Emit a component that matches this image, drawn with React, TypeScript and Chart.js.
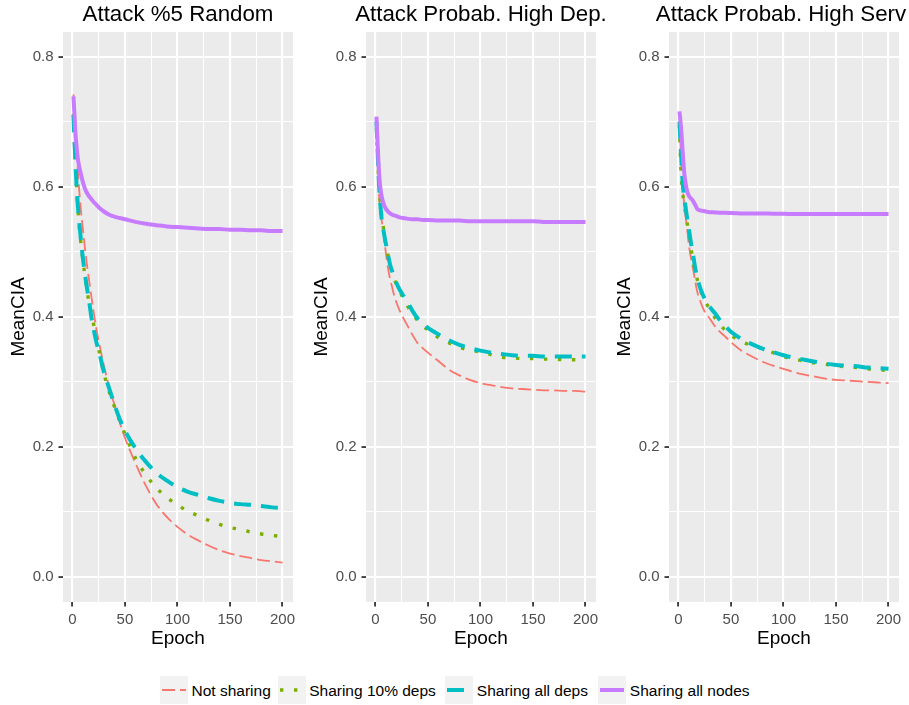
import React, { useEffect, useRef } from 'react';
import { Chart, registerables } from 'chart.js';

Chart.register(...registerables);

// ---------------- data ----------------
const EPOCHS = [1, 2, 3, 4, 5, 6, 8, 10, 12, 14, 16, 18, 20, 23, 26, 30, 35, 40, 45, 50, 60, 70, 80, 90, 100, 110, 120, 130, 140, 150, 160, 170, 180, 190, 200];

const SERIES_NAMES = ['Not sharing', 'Sharing 10% deps', 'Sharing all deps', 'Sharing all nodes'];
const PANEL_TITLES = ['Attack %5 Random', 'Attack Probab. High Dep.', 'Attack Probab. High Serv'];

const X_TICKS = [0, 50, 100, 150, 200];
const Y_TICKS = [0.0, 0.2, 0.4, 0.6, 0.8];

// Panel 1: Attack %5 Random
const RANDOM_NOT_SHARING = [0.742, 0.72, 0.69, 0.66, 0.63, 0.605, 0.565, 0.535, 0.505, 0.478, 0.455, 0.432, 0.41, 0.38, 0.355, 0.325, 0.292, 0.265, 0.238, 0.214, 0.175, 0.14, 0.112, 0.092, 0.077, 0.065, 0.056, 0.048, 0.041, 0.036, 0.032, 0.029, 0.026, 0.024, 0.022];
const RANDOM_SHARE_10 = [0.712, 0.668, 0.632, 0.6, 0.575, 0.55, 0.515, 0.487, 0.463, 0.44, 0.42, 0.405, 0.39, 0.365, 0.343, 0.313, 0.285, 0.262, 0.24, 0.22, 0.183, 0.157, 0.137, 0.122, 0.111, 0.101, 0.094, 0.087, 0.081, 0.076, 0.073, 0.069, 0.066, 0.064, 0.062];
const RANDOM_SHARE_DEPS = [0.71, 0.67, 0.635, 0.6, 0.575, 0.555, 0.52, 0.49, 0.465, 0.443, 0.423, 0.4, 0.383, 0.36, 0.342, 0.315, 0.29, 0.265, 0.243, 0.225, 0.198, 0.177, 0.16, 0.148, 0.138, 0.131, 0.126, 0.121, 0.117, 0.114, 0.112, 0.111, 0.109, 0.107, 0.106];
const RANDOM_SHARE_NODES = [0.739, 0.71, 0.68, 0.662, 0.645, 0.635, 0.62, 0.607, 0.597, 0.59, 0.585, 0.581, 0.577, 0.572, 0.567, 0.562, 0.557, 0.554, 0.552, 0.55, 0.546, 0.543, 0.541, 0.539, 0.538, 0.537, 0.536, 0.535, 0.535, 0.534, 0.534, 0.533, 0.533, 0.532, 0.532];

// Panel 2: Attack Probab. High Dep.
const DEP_NOT_SHARING = [0.7, 0.64, 0.6, 0.575, 0.56, 0.548, 0.525, 0.498, 0.475, 0.458, 0.445, 0.432, 0.422, 0.41, 0.4, 0.388, 0.373, 0.36, 0.352, 0.345, 0.332, 0.319, 0.31, 0.303, 0.298, 0.295, 0.292, 0.29, 0.289, 0.288, 0.287, 0.287, 0.286, 0.286, 0.285];
const DEP_SHARE_10 = [0.69, 0.65, 0.615, 0.59, 0.57, 0.555, 0.533, 0.51, 0.495, 0.48, 0.468, 0.458, 0.45, 0.44, 0.43, 0.418, 0.405, 0.395, 0.386, 0.38, 0.368, 0.36, 0.353, 0.349, 0.346, 0.342, 0.338, 0.337, 0.336, 0.336, 0.335, 0.335, 0.334, 0.334, 0.334];
const DEP_SHARE_DEPS = [0.7, 0.66, 0.62, 0.59, 0.567, 0.55, 0.53, 0.512, 0.495, 0.48, 0.47, 0.46, 0.452, 0.442, 0.434, 0.424, 0.41, 0.398, 0.39, 0.383, 0.373, 0.364, 0.357, 0.352, 0.348, 0.345, 0.343, 0.341, 0.34, 0.34, 0.339, 0.339, 0.339, 0.339, 0.339];
const DEP_SHARE_NODES = [0.708, 0.67, 0.635, 0.61, 0.595, 0.585, 0.573, 0.566, 0.562, 0.559, 0.557, 0.556, 0.555, 0.553, 0.552, 0.551, 0.55, 0.55, 0.549, 0.549, 0.548, 0.548, 0.548, 0.547, 0.547, 0.547, 0.547, 0.547, 0.547, 0.547, 0.546, 0.546, 0.546, 0.546, 0.546];

// Panel 3: Attack Probab. High Serv
const SERV_NOT_SHARING = [0.7, 0.665, 0.625, 0.598, 0.582, 0.565, 0.54, 0.51, 0.49, 0.473, 0.455, 0.438, 0.428, 0.415, 0.405, 0.397, 0.385, 0.376, 0.369, 0.361, 0.348, 0.339, 0.331, 0.325, 0.32, 0.315, 0.311, 0.308, 0.305, 0.303, 0.302, 0.301, 0.3, 0.299, 0.298];
const SERV_SHARE_10 = [0.695, 0.64, 0.61, 0.59, 0.58, 0.568, 0.548, 0.527, 0.505, 0.487, 0.47, 0.457, 0.445, 0.432, 0.422, 0.412, 0.398, 0.387, 0.379, 0.372, 0.362, 0.356, 0.351, 0.345, 0.339, 0.335, 0.332, 0.329, 0.327, 0.325, 0.323, 0.322, 0.32, 0.319, 0.317];
const SERV_SHARE_DEPS = [0.7, 0.665, 0.635, 0.608, 0.59, 0.578, 0.555, 0.535, 0.513, 0.495, 0.475, 0.46, 0.448, 0.435, 0.425, 0.415, 0.405, 0.394, 0.385, 0.377, 0.366, 0.358, 0.351, 0.346, 0.341, 0.337, 0.334, 0.331, 0.328, 0.326, 0.325, 0.324, 0.322, 0.321, 0.32];
const SERV_SHARE_NODES = [0.716, 0.7, 0.68, 0.655, 0.632, 0.615, 0.595, 0.586, 0.582, 0.578, 0.572, 0.566, 0.564, 0.563, 0.562, 0.561, 0.5605, 0.56, 0.56, 0.5595, 0.559, 0.559, 0.559, 0.5585, 0.5585, 0.558, 0.558, 0.558, 0.558, 0.558, 0.558, 0.558, 0.558, 0.558, 0.558];

// ---------------- styles ----------------
const FONT = '"Liberation Sans", Arial, Helvetica, sans-serif';
const STYLES = [
  { color: '#F8766D', width: 1.8, dash: [13, 5] },
  { color: '#7CAE00', width: 3.4, dash: [3.4, 10.6] },
  { color: '#00BFC4', width: 4, dash: [17, 10] },
  { color: '#C77CFF', width: 4, dash: [] as number[] },
];

Chart.defaults.font.family = FONT;

const isMajorX = (v: number) => X_TICKS.some((t) => Math.abs(t - v) < 1e-6);
const isMajorY = (v: number) => Y_TICKS.some((t) => Math.abs(t - v) < 1e-6);

type PanelProps = { title: string; series: number[][]; left: number; titleShift: number };

function Panel({ title, series, left, titleShift }: PanelProps) {
  const ref = useRef<HTMLCanvasElement | null>(null);

  useEffect(() => {
    if (!ref.current) return;
    const panelPlugin = {
      id: 'panelDecor',
      beforeDraw(chart: any) {
        const { ctx, chartArea: a } = chart;
        ctx.save();
        ctx.fillStyle = '#EBEBEB';
        ctx.fillRect(a.left, a.top, a.right - a.left, a.bottom - a.top);
        ctx.restore();
      },
      afterDraw(chart: any) {
        const { ctx, chartArea: a } = chart;
        ctx.save();
        ctx.font = `22.3px ${FONT}`;
        ctx.fillStyle = '#000000';
        ctx.textAlign = 'center';
        ctx.textBaseline = 'alphabetic';
        ctx.fillText(title, (a.left + a.right) / 2 + titleShift, 20.5);
        ctx.restore();
      },
    };

    const chart = new Chart(ref.current, {
      type: 'line',
      data: {
        datasets: series.map((vals, i) => ({
          label: SERIES_NAMES[i],
          data: EPOCHS.map((e, j) => ({ x: e, y: vals[j] })),
          borderColor: STYLES[i].color,
          backgroundColor: STYLES[i].color,
          borderWidth: STYLES[i].width,
          borderDash: STYLES[i].dash,
          borderCapStyle: 'butt',
          pointRadius: 0,
          pointHoverRadius: 0,
          fill: false,
          cubicInterpolationMode: 'monotone',
          order: 4 - i,
        })),
      },
      options: {
        responsive: false,
        animation: false,
        events: [],
        layout: { padding: { left: 0, right: 10, top: 32, bottom: 0 } },
        plugins: {
          legend: { display: false },
          title: { display: false },
          tooltip: { enabled: false },
        },
        scales: {
          x: {
            type: 'linear',
            min: -8.95,
            max: 209.95,
            border: { display: false },
            grid: {
              color: '#FFFFFF',
              lineWidth: (c: any) => (c.tick && isMajorX(c.tick.value) ? 2.1 : 1),
              drawTicks: true,
              tickLength: 4.5,
              tickWidth: 1.8,
              tickColor: (c: any) => (c.tick && isMajorX(c.tick.value) ? '#333333' : 'rgba(0,0,0,0)'),
            },
            ticks: {
              stepSize: 25,
              includeBounds: false,
              autoSkip: false,
              maxRotation: 0,
              minRotation: 0,
              padding: 4,
              color: '#4D4D4D',
              font: { size: 15, lineHeight: 1.2 },
              callback: (v: any) => (isMajorX(Number(v)) ? String(Math.round(Number(v))) : ''),
            },
            title: {
              display: true,
              text: 'Epoch',
              color: '#000000',
              font: { size: 19, lineHeight: 1.2 },
              padding: { top: 0, bottom: 10 },
            },
            afterFit: (s: any) => {
              s.height = 58;
              s.paddingLeft = 0;
              s.paddingRight = 0;
            },
          },
          y: {
            type: 'linear',
            min: -0.0385,
            max: 0.838,
            border: { display: false },
            grid: {
              color: '#FFFFFF',
              lineWidth: (c: any) => (c.tick && isMajorY(c.tick.value) ? 2.1 : 1),
              drawTicks: true,
              tickLength: 4.5,
              tickWidth: 1.8,
              tickColor: (c: any) => (c.tick && isMajorY(c.tick.value) ? '#333333' : 'rgba(0,0,0,0)'),
            },
            ticks: {
              stepSize: 0.1,
              includeBounds: false,
              autoSkip: false,
              padding: 5,
              color: '#4D4D4D',
              font: { size: 15, lineHeight: 1.2 },
              callback: (v: any) => (isMajorY(Number(v)) ? Number(v).toFixed(1) : ''),
            },
            title: {
              display: true,
              text: 'MeanCIA',
              color: '#000000',
              font: { size: 19, lineHeight: 1.2 },
              padding: { top: 7.6, bottom: 0 },
            },
            afterFit: (s: any) => {
              s.width = 63;
              s.paddingTop = 0;
              s.paddingBottom = 0;
            },
          },
        },
      } as any,
      plugins: [panelPlugin],
    } as any);

    return () => chart.destroy();
  }, []);

  return (
    <canvas
      ref={ref}
      width={303}
      height={660}
      style={{ position: 'absolute', left, top: 0, width: 303, height: 660 }}
    />
  );
}

const PANELS = [
  { title: PANEL_TITLES[0], series: [RANDOM_NOT_SHARING, RANDOM_SHARE_10, RANDOM_SHARE_DEPS, RANDOM_SHARE_NODES], left: 0, shift: 0 },
  { title: PANEL_TITLES[1], series: [DEP_NOT_SHARING, DEP_SHARE_10, DEP_SHARE_DEPS, DEP_SHARE_NODES], left: 303, shift: 0 },
  { title: PANEL_TITLES[2], series: [SERV_NOT_SHARING, SERV_SHARE_10, SERV_SHARE_DEPS, SERV_SHARE_NODES], left: 606, shift: -3 },
];

const LEGEND_LEFT = [160, 277.7, 445.3, 598.3];

export default function App() {
  return (
    <div
      style={{
        position: 'absolute',
        left: 0,
        top: 0,
        width: 909,
        height: 705,
        background: '#FFFFFF',
        overflow: 'hidden',
        fontFamily: FONT,
      }}
    >
      {PANELS.map((p, i) => (
        <Panel key={i} title={p.title} series={p.series} left={p.left} titleShift={p.shift} />
      ))}
      {SERIES_NAMES.map((name, i) => (
        <React.Fragment key={name}>
          <svg
            width={28}
            height={28}
            style={{ position: 'absolute', left: LEGEND_LEFT[i], top: 676 }}
          >
            <rect x={0} y={0} width={28} height={28} fill="#F2F2F2" />
            <line
              x1={2}
              y1={14}
              x2={26}
              y2={14}
              stroke={STYLES[i].color}
              strokeWidth={STYLES[i].width}
              strokeDasharray={STYLES[i].dash.length ? STYLES[i].dash.join(' ') : undefined}
            />
          </svg>
          <div
            style={{
              position: 'absolute',
              left: LEGEND_LEFT[i] + 31.5,
              top: 683,
              fontSize: 15.5,
              lineHeight: '15.5px',
              whiteSpace: 'nowrap',
              color: '#000000',
            }}
          >
            {name}
          </div>
        </React.Fragment>
      ))}
    </div>
  );
}
